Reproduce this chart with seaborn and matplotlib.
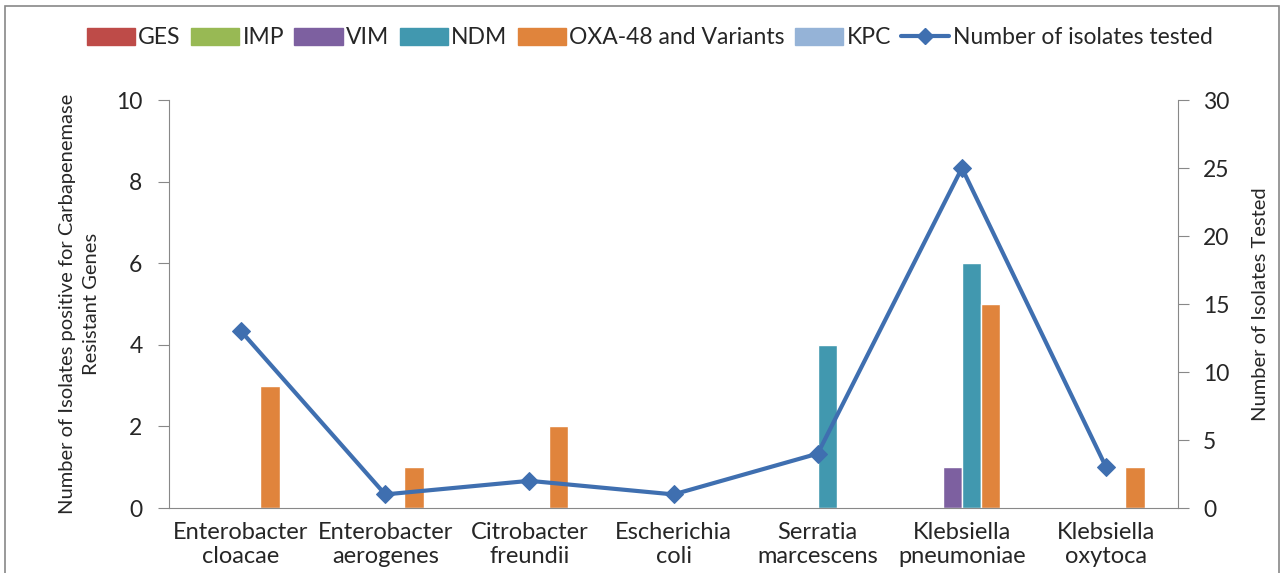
import matplotlib
matplotlib.use("Agg")
import matplotlib.pyplot as plt
import matplotlib.patches as mpatches
from matplotlib.lines import Line2D
import seaborn as sns
import pandas as pd
import numpy as np

categories = ["Enterobacter\ncloacae", "Enterobacter\naerogenes", "Citrobacter\nfreundii",
              "Escherichia\ncoli", "Serratia\nmarcescens", "Klebsiella\npneumoniae", "Klebsiella\noxytoca"]
genes = ["GES", "IMP", "VIM", "NDM", "OXA-48 and Variants", "KPC"]
ges = [0, 0, 0, 0, 0, 0, 0]
imp = [0, 0, 0, 0, 0, 0, 0]
vim = [0, 0, 0, 0, 0, 1, 0]
ndm = [0, 0, 0, 0, 4, 6, 0]
oxa = [3, 1, 2, 0, 0, 5, 1]
kpc = [0, 0, 0, 0, 0, 0, 0]
tested = [13, 1, 2, 1, 4, 25, 3]

colors = ["#BE4B48", "#98B954", "#7D60A0", "#4198AF", "#E0843C", "#95B3D7"]
line_color = "#3F6FB0"

rows = []
for g, vals in zip(genes, [ges, imp, vim, ndm, oxa, kpc]):
    for c, v in zip(categories, vals):
        rows.append({"Organism": c, "Gene": g, "Count": v})
df = pd.DataFrame(rows)

sns.set_style("white")
plt.rcParams['font.family'] = ['Lato', 'DejaVu Sans']

fig = plt.figure(figsize=(12.84, 5.73), dpi=100)
ax = fig.add_axes([0.1316, 0.1134, 0.786, 0.712])
sns.barplot(data=df, x="Organism", y="Count", hue="Gene", order=categories,
            hue_order=genes, palette=colors, ax=ax, width=0.8, legend=False,
            saturation=1, errorbar=None)
ax.set_ylim(0, 10)
ax.set_xlim(-0.5, 6.5)
ax.set_yticks(range(0, 11, 2))
ax.set_xlabel("")
ax.set_ylabel("Number of Isolates positive for Carbapenemase\nResistant Genes", fontsize=14.5,
              labelpad=12, linespacing=1.45)
ax.tick_params(axis="y", labelsize=16.5, length=8, color="#888888", direction="out", pad=11)
ax.tick_params(axis="x", which="major", length=0, labelsize=17, pad=10)
ax.set_xticks(np.arange(-0.5, 7, 1), minor=True)
ax.tick_params(axis="x", which="minor", length=8, color="#888888", direction="out")
for s in ["top", "right"]:
    ax.spines[s].set_visible(False)
for s in ["left", "bottom"]:
    ax.spines[s].set_color("#888888")

ax2 = ax.twinx()
sns.lineplot(x=np.arange(len(categories)), y=tested, ax=ax2, color=line_color,
             linewidth=3, marker="D", markersize=9, markeredgecolor=line_color)
ax2.set_ylim(0, 30)
ax2.set_yticks(range(0, 31, 5))
ax2.set_ylabel("Number of Isolates Tested", fontsize=14.5, labelpad=16)
ax2.tick_params(axis="y", labelsize=16.5, length=8, color="#888888", direction="out", pad=10)
for s in ["top", "left", "bottom"]:
    ax2.spines[s].set_visible(False)
ax2.spines["right"].set_color("#888888")
ax2.set_xlim(-0.5, 6.5)

handles = [mpatches.Patch(color=c, label=g) for g, c in zip(genes, colors)]
handles.append(Line2D([0], [0], color=line_color, lw=3, marker="D", markersize=8,
                      label="Number of isolates tested"))
fig.legend(handles=handles, loc="center", bbox_to_anchor=(0.506, 0.934), ncol=7,
           frameon=False, fontsize=16.5, handlelength=2.1, handleheight=0.8,
           columnspacing=0.45, handletextpad=0.15)

fig.patches.append(mpatches.Rectangle((0.004, -0.01), 0.992, 1.0, transform=fig.transFigure,
                                      fill=False, edgecolor="#888888", lw=1.2))
fig.savefig("out.png", dpi=100)
